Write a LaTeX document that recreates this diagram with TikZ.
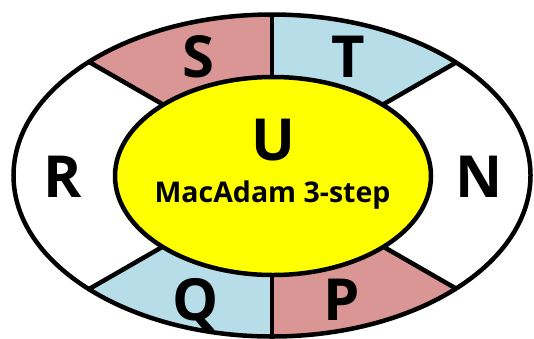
\documentclass[tikz,border=0pt]{standalone}
\usepackage{fontspec}
\setmainfont{Open Sans}
\definecolor{pinkfill}{HTML}{D99694}
\definecolor{bluefill}{HTML}{B7DEE8}
\definecolor{yellowfill}{HTML}{FFFF00}
\begin{document}
\begin{tikzpicture}[x=1pt,y=-1pt,
  outline/.style={line width=4.5pt,draw=black},
  bigletter/.style={font=\fontsize{58}{60}\selectfont\bfseries,anchor=base,inner sep=0pt},
  midtext/.style={font=\fontsize{28.5}{30}\selectfont\bfseries,anchor=base,inner sep=0pt}]
\useasboundingbox (0,0) rectangle (534,338);
% key coordinates
\coordinate (C) at (272,175.5);
\coordinate (ULin) at (230,143);
\coordinate (ULout) at (30,28);
\coordinate (URin) at (316,143);
\coordinate (URout) at (516,28);
\coordinate (LLin) at (230,208);
\coordinate (LLout) at (30,323);
\coordinate (LRin) at (316,208);
\coordinate (LRout) at (516,323);
\coordinate (Vtop) at (272,-10);
\coordinate (Vbot) at (272,350);
\begin{scope}
  \clip (C) ellipse [x radius=258.5, y radius=161];
  \fill[white] (C) ellipse [x radius=258.5, y radius=161];
  \fill[pinkfill] (Vtop) -- (C) -- (ULin) -- (ULout) -- (30,-10) -- cycle;
  \fill[bluefill] (Vtop) -- (C) -- (URin) -- (URout) -- (516,-10) -- cycle;
  \fill[bluefill] (Vbot) -- (C) -- (LLin) -- (LLout) -- (30,350) -- cycle;
  \fill[pinkfill] (Vbot) -- (C) -- (LRin) -- (LRout) -- (516,350) -- cycle;
  \draw[outline] (ULin) -- (ULout);
  \draw[outline] (URin) -- (URout);
  \draw[outline] (LLin) -- (LLout);
  \draw[outline] (LRin) -- (LRout);
  \draw[outline] (Vtop) -- (Vbot);
\end{scope}
\draw[outline] (C) ellipse [x radius=258.5, y radius=161];
\draw[outline,fill=yellowfill] (273,176) ellipse [x radius=158, y radius=99];
\node[bigletter] (S) at (198,77) {S};
\node[bigletter] (T) at (348,77) {T};
\node[bigletter] (R) at (63,197) {R};
\node[bigletter] (N) at (479,197) {N};
\node[bigletter] (Q) at (196,320) {Q};
\node[bigletter] (P) at (342,320) {P};
\node[bigletter] (U) at (273,160) {U};
\node[midtext] (M) at (272.5,202) {MacAdam 3-step};
\end{tikzpicture}
\end{document}
